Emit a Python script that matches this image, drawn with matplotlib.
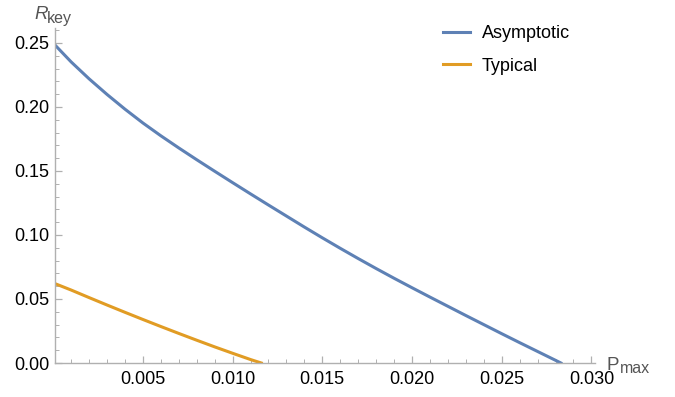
import matplotlib
matplotlib.use("Agg")
import matplotlib.pyplot as plt
from matplotlib.ticker import MultipleLocator, FixedLocator

plt.rcParams['font.family'] = ['Liberation Sans', 'DejaVu Sans']

asym_x = [0.0001, 0.001, 0.002, 0.003, 0.004, 0.005, 0.006, 0.007, 0.008, 0.009,
          0.010, 0.011, 0.012, 0.013, 0.014, 0.015, 0.016, 0.017, 0.018, 0.019,
          0.020, 0.021, 0.022, 0.023, 0.024, 0.025, 0.026, 0.027, 0.028, 0.0283]
asym_y = [0.2484, 0.2352, 0.2220, 0.2098, 0.1983, 0.1875, 0.1775, 0.1680, 0.1588, 0.1498,
          0.1409, 0.1321, 0.1234, 0.1148, 0.1062, 0.0978, 0.0896, 0.0816, 0.0738, 0.0662,
          0.0588, 0.0515, 0.0443, 0.0371, 0.0300, 0.0229, 0.0159, 0.0090, 0.0021, 0.0]
typ_x = [0.0001, 0.001, 0.002, 0.003, 0.004, 0.005, 0.006, 0.007, 0.008, 0.009, 0.010, 0.011, 0.0116]
typ_y = [0.0620, 0.0570, 0.0511, 0.0453, 0.0396, 0.0340, 0.0285, 0.0231, 0.0178, 0.0126, 0.0076, 0.0027, 0.0]
x_ticks = [0.005, 0.010, 0.015, 0.020, 0.025, 0.030]
x_labels = ["0.005", "0.010", "0.015", "0.020", "0.025", "0.030"]
y_ticks = [0.00, 0.05, 0.10, 0.15, 0.20, 0.25]
y_labels = ["0.00", "0.05", "0.10", "0.15", "0.20", "0.25"]

W, H = 675, 397
fig = plt.figure(figsize=(W/100, H/100), dpi=100)
L, R, B, T = 55, 595, 363, 28
ax = fig.add_axes([L/W, 1 - B/H, (R-L)/W, (B-T)/H])

ax.plot(asym_x, asym_y, color='#5E81B5', lw=2.2, label='Asymptotic')
ax.plot(typ_x, typ_y, color='#E19C24', lw=2.2, label='Typical')

ax.set_xlim(0.0001, 0.0302)
ax.set_ylim(0, 0.2617)
for s in ['top', 'right']:
    ax.spines[s].set_visible(False)
for s in ['left', 'bottom']:
    ax.spines[s].set_color('#b0b0b0')
    ax.spines[s].set_linewidth(1.0)

ax.xaxis.set_major_locator(FixedLocator(x_ticks))
ax.set_xticklabels(x_labels)
ax.yaxis.set_major_locator(FixedLocator(y_ticks))
ax.set_yticklabels(y_labels)
ax.xaxis.set_minor_locator(MultipleLocator(0.001))
ax.yaxis.set_minor_locator(MultipleLocator(0.01))
ax.tick_params(which='major', direction='in', length=5, width=0.9, color='#b0b0b0',
               labelsize=13, labelcolor='black')
ax.tick_params(axis='y', which='major', pad=4)
ax.tick_params(axis='x', which='major', pad=6)
ax.tick_params(which='minor', direction='in', length=3, width=0.7, color='#b0b0b0')

lab_col = '#555555'
fig.text(34/W, 1 - 19/H, 'R', fontsize=13.5, style='italic', color=lab_col, ha='left', va='baseline')
fig.text(47/W, 1 - 23/H, 'key', fontsize=11.5, color=lab_col, ha='left', va='baseline')
fig.text(607/W, 1 - 370/H, 'P', fontsize=13.5, color=lab_col, ha='left', va='baseline')
fig.text(620/W, 1 - 373/H, 'max', fontsize=11.5, color=lab_col, ha='left', va='baseline')

leg = ax.legend(loc='upper left', bbox_to_anchor=(427/W, 1 - 9/H), bbox_transform=fig.transFigure,
                frameon=False, fontsize=13, handlelength=1.5, handletextpad=0.65, labelspacing=0.85)

fig.savefig('out.png', dpi=100)
